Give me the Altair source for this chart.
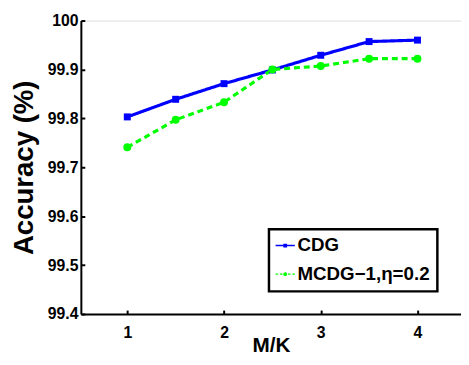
import altair as alt
import pandas as pd

mk = [1, 1.5, 2, 2.5, 3, 3.5, 4]
cdg = [99.803, 99.839, 99.871, 99.899, 99.929, 99.957, 99.960]
mcdg = [99.741, 99.797, 99.833, 99.900, 99.907, 99.922, 99.922]
series = ["CDG", "MCDG−1,η=0.2"]
y_ticks = [99.4, 99.5, 99.6, 99.7, 99.8, 99.9, 100.0]
x_ticks = [1, 2, 3, 4]
colors = ["#0000ff", "#00ff00"]

rows = []
for x, a, b in zip(mk, cdg, mcdg):
    rows.append({"mk": x, "acc": a, "series": series[0]})
    rows.append({"mk": x, "acc": b, "series": series[1]})
df = pd.DataFrame(rows)

FONT = "Liberation Sans"

xs = alt.Scale(domain=[0.52, 4.45], nice=False, zero=False)
ys = alt.Scale(domain=[99.4, 100.0], nice=False, zero=False)
cs = alt.Scale(domain=series, range=colors)

x_enc = alt.X("mk:Q", scale=xs, title="M/K",
              axis=alt.Axis(values=x_ticks, format="d", grid=False,
                            tickSize={"expr": "-4"}, tickColor="black", tickWidth=2,
                            domainColor="black", domainWidth=2,
                            labelFont=FONT, labelFontSize=16, labelFontWeight="bold",
                            labelColor="black", labelPadding=15,
                            titleFont=FONT, titleFontSize=21, titleFontWeight="bold",
                            titleColor="black", titlePadding=-6))
y_enc = alt.Y("acc:Q", scale=ys, title="Accuracy (%)",
              axis=alt.Axis(values=y_ticks, grid=False,
                            labelExpr="datum.value >= 99.99 ? '100' : format(datum.value, '.1f')",
                            tickSize={"expr": "-4"}, tickColor="black", tickWidth=2,
                            domainColor="black", domainWidth=2,
                            labelFont=FONT, labelFontSize=16, labelFontWeight="bold",
                            labelColor="black", labelPadding=7,
                            titleFont=FONT, titleFontSize=28, titleFontWeight="bold",
                            titleColor="black", titlePadding=9))

base = alt.Chart(df)

lines = base.mark_line(strokeWidth=3.2).encode(
    x=x_enc, y=y_enc,
    color=alt.Color("series:N", scale=cs, legend=None),
    strokeDash=alt.StrokeDash("series:N",
                              scale=alt.Scale(domain=series, range=[[1, 0], [6, 4]]),
                              legend=None),
)

squares = base.transform_filter(alt.datum.series == series[0]).mark_square(
    size=50, opacity=1).encode(
    x="mk:Q", y="acc:Q", color=alt.Color("series:N", scale=cs, legend=None))

circles = base.transform_filter(alt.datum.series == series[1]).mark_circle(
    size=65, opacity=1).encode(
    x="mk:Q", y="acc:Q", color=alt.Color("series:N", scale=cs, legend=None))

sq_path = ("M-1.5,-0.115H-0.29V0.115H-1.5Z M0.29,-0.115H1.5V0.115H0.29Z "
           "M-0.29,-0.29H0.29V0.29H-0.29Z")
ci_path = ("M-1.5,-0.115H-1.12V0.115H-1.5Z M-0.82,-0.115H-0.42V0.115H-0.82Z "
           "M0.42,-0.115H0.82V0.115H0.42Z M1.12,-0.115H1.5V0.115H1.12Z "
           "M0.3,0 A0.3,0.3 0 1,1 -0.3,0 A0.3,0.3 0 1,1 0.3,0Z")

leg = alt.Legend(orient="none", legendX=191, legendY=212,
                 strokeColor="black",
                 fillColor="white", padding=7,
                 rowPadding=9, symbolOffset=0,
                 symbolOpacity=1, symbolSize=170,
                 labelFont=FONT, labelFontSize=19,
                 labelFontWeight="bold", labelColor="black",
                 labelOffset=3, symbolStrokeWidth=0)

legend_layer = base.mark_point(
    filled=True, size=170, strokeWidth=0, opacity=0).encode(
    x="mk:Q", y="acc:Q",
    color=alt.Color("series:N", scale=cs, title=None, legend=leg),
    shape=alt.Shape("series:N", scale=alt.Scale(domain=series, range=[sq_path, ci_path]),
                    title=None, legend=leg),
)

chart = alt.layer(lines, squares, circles, legend_layer).resolve_legend(
    color="independent", shape="independent"
).properties(
    width=386, height=298,
    autosize=alt.AutoSizeParams(type="none"),
    padding={"left": 74, "top": 10, "right": 0, "bottom": 47},
).configure_view(stroke=None).configure(background="white").configure_legend(
    strokeWidth=2.5)

chart.save("out.html", embed_options={"renderer": "svg", "actions": False})
